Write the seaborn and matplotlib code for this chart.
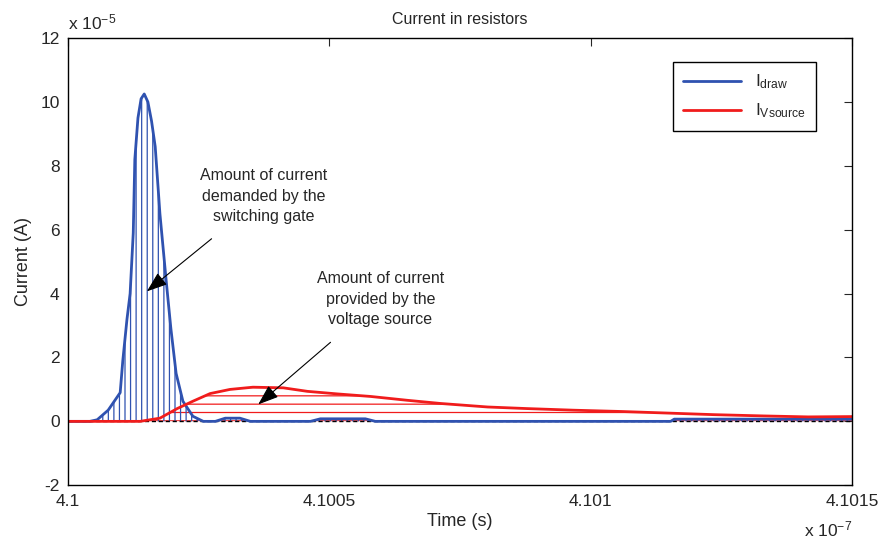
import numpy as np
import pandas as pd
import matplotlib
matplotlib.use("Agg")
import matplotlib.pyplot as plt
import seaborn as sns

# time in units of 1e-7 s, current in units of 1e-5 A
t_draw = [4.100000, 4.100042, 4.100056, 4.100077, 4.100100, 4.100105, 4.100113,
          4.100119, 4.100125, 4.100128, 4.100134, 4.100140, 4.100146, 4.100153,
          4.100160, 4.100167, 4.100176, 4.100188, 4.100197, 4.100207, 4.100220,
          4.100239, 4.100259, 4.100282, 4.100301, 4.100329, 4.100349, 4.100464,
          4.100483, 4.100569, 4.100588, 4.100713, 4.101153, 4.101160, 4.101500]
i_draw = [0.0, 0.0, 0.05, 0.35, 0.9, 1.9, 3.2,
          4.0, 5.9, 8.2, 9.5, 10.1, 10.25, 10.0,
          9.4, 8.6, 6.5, 4.4, 2.9, 1.5, 0.63,
          0.16, 0.0, 0.0, 0.1, 0.1, 0.0, 0.0,
          0.08, 0.08, 0.0, 0.0, 0.0, 0.07, 0.07]

t_vsrc = [4.100000, 4.100138, 4.100176, 4.100209, 4.100239, 4.100272, 4.100310,
          4.100354, 4.100412, 4.100458, 4.100515, 4.100579, 4.100649, 4.100713,
          4.100803, 4.100879, 4.100967, 4.101057, 4.101147, 4.101236, 4.101331,
          4.101416, 4.101500]
i_vsrc = [0.0, 0.0, 0.1, 0.4, 0.63, 0.87, 1.0,
          1.07, 1.05, 0.94, 0.86, 0.78, 0.66, 0.56,
          0.45, 0.40, 0.35, 0.31, 0.26, 0.21, 0.17,
          0.14, 0.15]

x_ticks = [4.1, 4.1005, 4.101, 4.1015]
x_labels = ["4.1", "4.1005", "4.101", "4.1015"]
y_ticks = [-2, 0, 2, 4, 6, 8, 10, 12]

blue = "#2f52b0"
red = "#f01c1c"

sns.set_style("white")
plt.rcParams["font.family"] = ["Liberation Sans", "DejaVu Sans"]
plt.rcParams["mathtext.default"] = "regular"
plt.rcParams["axes.unicode_minus"] = False
plt.rcParams["hatch.linewidth"] = 0.9

df = pd.concat([
    pd.DataFrame({"t": t_draw, "i": i_draw, "series": "draw"}),
    pd.DataFrame({"t": t_vsrc, "i": i_vsrc, "series": "vsource"}),
])

fig = plt.figure(figsize=(8.82, 5.44), dpi=100)
ax = fig.add_axes([0.077, 0.108, 0.889, 0.822])

# hatched areas under the curves
ax.fill_between(t_vsrc, 0, i_vsrc, facecolor="none", edgecolor=red,
                hatch="--", linewidth=0)
ax.fill_between(t_draw, 0, i_draw, facecolor="none", edgecolor=blue,
                hatch="|||", linewidth=0)
ax.axhline(0, color="black", ls=(0, (3, 2)), lw=1.0, zorder=1)

sns.lineplot(data=df, x="t", y="i", hue="series", sort=False,
             palette={"draw": blue, "vsource": red}, lw=2, ax=ax,
             estimator=None)

ax.set_xlim(4.1, 4.1015)
ax.set_ylim(-2, 12)
ax.set_xticks(x_ticks)
ax.set_xticklabels(x_labels)
ax.set_yticks(y_ticks)
ax.tick_params(direction="in", top=True, right=True, length=6, labelsize=12.5,
               pad=6)
for s in ax.spines.values():
    s.set_color("black")
    s.set_linewidth(1.0)

ax.set_title("Current in resistors", fontsize=11.5, pad=10)
ax.set_xlabel("Time (s)", fontsize=13, labelpad=3)
ax.set_ylabel("Current (A)", fontsize=13, labelpad=6)
ax.text(0.0, 1.012, r"x 10$^{-5}$", transform=ax.transAxes, fontsize=12.5,
        ha="left", va="bottom")
fig.text(0.912, 0.008, r"x 10$^{-7}$", fontsize=12.5, ha="left", va="bottom")

handles = ax.get_legend().legend_handles
ax.legend(handles, ["I$_{draw}$", "I$_{Vsource}$"], loc="upper right",
          bbox_to_anchor=(0.954, 0.946), borderaxespad=0, fancybox=False,
          framealpha=1, edgecolor="black", fontsize=12.5, handlelength=3.3,
          labelspacing=0.6, borderpad=0.6)

arrow = dict(arrowstyle="-|>,head_length=1.1,head_width=0.4",
             color="black", lw=0.8, shrinkA=13, shrinkB=0)
ax.annotate("Amount of current\ndemanded by the\nswitching gate",
            xy=(4.100151, 4.07), xytext=(4.100375, 7.05),
            ha="center", va="center", fontsize=11.5, linespacing=1.45,
            arrowprops=arrow)
ax.annotate("Amount of current\nprovided by the\nvoltage source",
            xy=(4.100364, 0.53), xytext=(4.100598, 3.82),
            ha="center", va="center", fontsize=11.5, linespacing=1.45,
            arrowprops=arrow)

fig.savefig("out.png", dpi=100)
